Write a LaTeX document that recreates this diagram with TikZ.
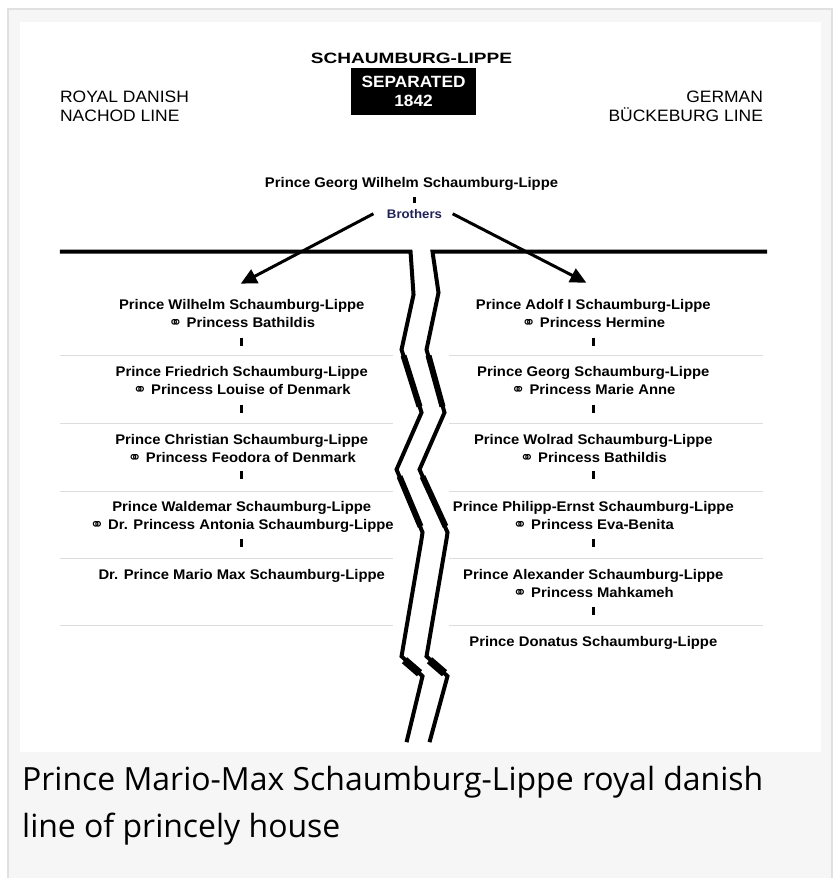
\documentclass[tikz,border=0pt]{standalone}
\usepackage{fontspec}
\usepackage{graphicx}
\setmainfont{Liberation Sans}[FakeStretch=1.06]
\newfontfamily\capfont{Open Sans}
\newfontfamily\symfont{DejaVu Sans}
\usetikzlibrary{arrows.meta,positioning}
\definecolor{framegray}{RGB}{224,224,224}
\definecolor{pagegray}{RGB}{246,246,246}
\definecolor{rulegray}{RGB}{221,221,221}
\definecolor{brotherblue}{RGB}{35,35,90}
\newcommand{\marr}{\raisebox{-0.5pt}{\symfont\fontsize{17}{12}\selectfont ⚭}}

\begin{document}
\begin{tikzpicture}[x=1pt,y=-1pt,
    person/.style={align=center,inner sep=0pt,anchor=north,font=\bfseries\fontsize{14}{18}\selectfont},
    headline/.style={inner sep=0pt,font=\fontsize{16.5}{19.5}\selectfont},
    tick/.style={line width=2.5pt},
    fence/.style={line width=4pt,line join=miter},
    fenceshade/.style={line width=6pt},
    sepline/.style={rulegray,line width=1.2pt},
    brarrow/.style={line width=3pt,-{Triangle[length=16pt,width=15pt]}}]

    % page and frame
    \fill[white] (0,0) rectangle (836,879);
    \fill[pagegray] (7,8) rectangle (834,879);
    \draw[framegray,line width=2pt] (8,879) -- (8,9) -- (833,9) -- (833,879);
    \fill[white] (20,22) rectangle (822,753);

    % header
    \node[inner sep=0pt,font=\bfseries\fontsize{15}{15}\selectfont] (house) at (412,58) {\scalebox{1.2}[1]{SCHAUMBURG-LIPPE}};
    \node[fill=black,text=white,align=center,minimum width=126pt,minimum height=47pt,
          font=\bfseries\fontsize{16.3}{20}\selectfont] (split) at (414,91.5) {SEPARATED\\1842};
    \node[headline,anchor=north west,align=left] (danish) at (60,90.7) {ROYAL DANISH\\NACHOD LINE};
    \node[headline,anchor=north east,align=right] (german) at (764,90.7) {GERMAN\\BÜCKEBURG LINE};

    % common ancestor
    \node[inner sep=0pt,anchor=base,font=\bfseries\fontsize{14}{18}\selectfont] (gw) at (412,188) {Prince Georg Wilhelm Schaumburg-Lippe};
    \draw[tick] (415,197) -- (415,203);
    \node[font=\bfseries\fontsize{12.5}{14}\selectfont,text=brotherblue] (bro) at (415,214) {Brothers};
    \coordinate (la) at (241,284);
    \coordinate (ra) at (587,283);
    \draw[brarrow] ([xshift=-10pt]bro.west) -- (la);
    \draw[brarrow] ([xshift=7pt]bro.east) -- (ra);

    % the split
    \draw[fence] (60,252) -- (411,252) -- (414,295) -- (402,350) -- (422,413) -- (397,470)
        -- (423,533) -- (422,540) -- (402,657) -- (423,677) -- (407,743);
    \draw[fence] (768,252) -- (433,252) -- (439,293) -- (427,350) -- (445,413) -- (420,470)
        -- (448,533) -- (447,540) -- (427,657) -- (448,677) -- (430,743);
    \draw[fenceshade] (404,356) -- (420,407);
    \draw[fenceshade] (429,356) -- (443,407);
    \draw[fenceshade] (400,477) -- (421,527);
    \draw[fenceshade] (423,477) -- (446,527);
    \draw[line width=8pt] (405,661) -- (420,674);
    \draw[line width=8pt] (430,661) -- (445,674);

    % separators
    \foreach \y in {356,424,492,559,626} {
        \draw[sepline] (60,\y) -- (393,\y);
        \draw[sepline] (450,\y) -- (764,\y);
    }

    % royal danish line
    \node[person] (l1) at (242,300) {Prince Wilhelm Schaumburg-Lippe\\\marr\ Princess Bathildis};
    \draw[tick] (242,338) -- (242,346);
    \node[person] (l2) at (242,367) {Prince Friedrich Schaumburg-Lippe\\\marr\ Princess Louise of Denmark};
    \draw[tick] (242,405) -- (242,413);
    \node[person] (l3) at (242,435) {Prince Christian Schaumburg-Lippe\\\marr\ Princess Feodora of Denmark};
    \draw[tick] (242,472) -- (242,480);
    \node[person] (l4) at (242,502) {Prince Waldemar Schaumburg-Lippe\\\marr\ Dr. Princess Antonia Schaumburg-Lippe};
    \draw[tick] (242,540) -- (242,548);
    \node[person] (l5) at (242,570) {Dr. Prince Mario Max Schaumburg-Lippe};

    % german line
    \node[person] (r1) at (594,300) {Prince Adolf I Schaumburg-Lippe\\\marr\ Princess Hermine};
    \draw[tick] (594,338) -- (594,346);
    \node[person] (r2) at (594,367) {Prince Georg Schaumburg-Lippe\\\marr\ Princess Marie Anne};
    \draw[tick] (594,405) -- (594,413);
    \node[person] (r3) at (594,435) {Prince Wolrad Schaumburg-Lippe\\\marr\ Princess Bathildis};
    \draw[tick] (594,472) -- (594,480);
    \node[person] (r4) at (594,502) {Prince Philipp-Ernst Schaumburg-Lippe\\\marr\ Princess Eva-Benita};
    \draw[tick] (594,540) -- (594,548);
    \node[person] (r5) at (594,570) {Prince Alexander Schaumburg-Lippe\\\marr\ Princess Mahkameh};
    \draw[tick] (594,608) -- (594,616);
    \node[person] (r6) at (594,637) {Prince Donatus Schaumburg-Lippe};

    % caption
    \node[anchor=north west,inner sep=0pt,align=left,font=\capfont\fontsize{32}{47}\selectfont] (caption) at (22,767)
        {Prince Mario-Max Schaumburg-Lippe royal danish\\line of princely house};
\end{tikzpicture}
\end{document}
